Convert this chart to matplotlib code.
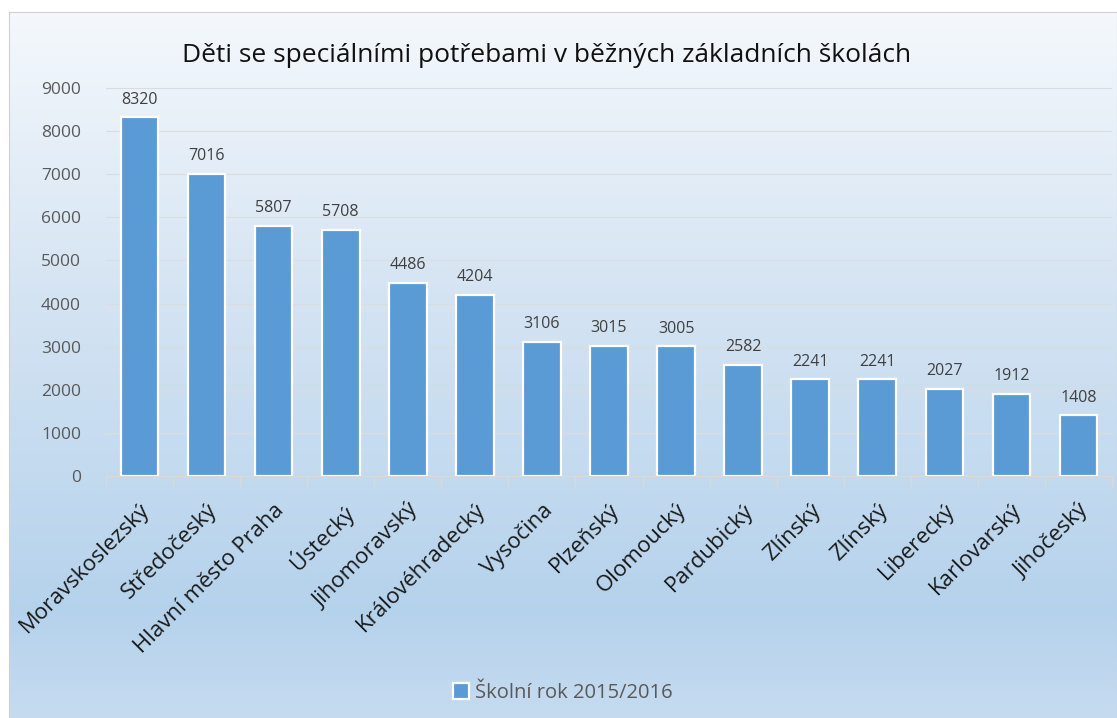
import matplotlib.pyplot as plt
import numpy as np

plt.rcParams['font.family'] = ['Open Sans', 'DejaVu Sans']

kraje = ["Moravskoslezský", "Středočeský", "Hlavní město Praha", "Ústecký",
         "Jihomoravský", "Královéhradecký", "Vysočina", "Plzeňský",
         "Olomoucký", "Pardubický", "Zlínský", "Zlínský", "Liberecký",
         "Karlovarský", "Jihočeský"]
pocty = [8320, 7016, 5807, 5708, 4486, 4204, 3106, 3015, 3005, 2582,
         2241, 2241, 2027, 1912, 1408]
yticky = [0, 1000, 2000, 3000, 4000, 5000, 6000, 7000, 8000, 9000]
legenda = "Školní rok 2015/2016"
titulek = "Děti se speciálními potřebami v běžných základních školách"

fig = plt.figure(figsize=(11.17, 7.18), dpi=100)

# pozadi s prechodem
bg = fig.add_axes([9 / 1117, 0, 1 - 9 / 1117, 1 - 12 / 718])
t = np.linspace(0, 1, 256)
stops = [0, 0.4, 0.85, 1]
r = np.interp(t, stops, [0.957, 0.835, 0.710, 0.776])
g = np.interp(t, stops, [0.973, 0.894, 0.824, 0.859])
b = np.interp(t, stops, [0.988, 0.953, 0.925, 0.941])
grad = np.stack([r, g, b], axis=1)[:, None, :]
bg.imshow(grad, aspect='auto', extent=[0, 1, 0, 1], origin='upper')
bg.set_xlim(0, 1)
bg.set_ylim(0, 1)
for s in bg.spines.values():
    s.set_color('#d0d0d0')
bg.set_xticks([])
bg.set_yticks([])

ax = fig.add_axes([106 / 1117, 1 - 476 / 718, 1006 / 1117, 388 / 718])
ax.patch.set_alpha(0)
x = np.arange(len(kraje))
bars = ax.bar(x, pocty, width=0.56, color='#5b9bd5', edgecolor='white',
              linewidth=1.6, label=legenda, zorder=3)
for xi, v in zip(x, pocty):
    ax.annotate(str(v), (xi, v), xytext=(0, 7), textcoords='offset points',
                ha='center', va='bottom', fontsize=11.5, color='#404040')

ax.set_xlim(-0.5, len(kraje) - 0.5)
ax.set_ylim(0, 9000)
ax.set_yticks(yticky)
ax.tick_params(axis='y', length=0, labelsize=12.5, labelcolor='#595959', pad=18)
ax.grid(axis='y', color='#dcdcdc', linewidth=0.8, zorder=0)
ax.set_axisbelow(True)

ax.set_xticks(x)
ax.set_xticklabels(kraje, rotation=45, ha='right', rotation_mode='anchor',
                   fontsize=16, color='#1a1a1a')
ax.tick_params(axis='x', which='major', length=0, pad=17)
ax.set_xticks(np.arange(len(kraje) + 1) - 0.5, minor=True)
ax.tick_params(axis='x', which='minor', length=8, color='#d9d9d9', width=1)

for side in ['left', 'right', 'top']:
    ax.spines[side].set_visible(False)
ax.spines['bottom'].set_color('#d9d9d9')

fig.text(547 / 1117, 1 - 55 / 718, titulek, ha='center', va='center',
         fontsize=19, color='#111111')

fig.legend(handles=[bars], labels=[legenda], loc='center',
           bbox_to_anchor=(563 / 1117, 1 - 693 / 718), frameon=False,
           fontsize=14.5, labelcolor='#595959', handlelength=0.8,
           handleheight=0.8, handletextpad=0.3)

fig.savefig("out.png", dpi=100)
